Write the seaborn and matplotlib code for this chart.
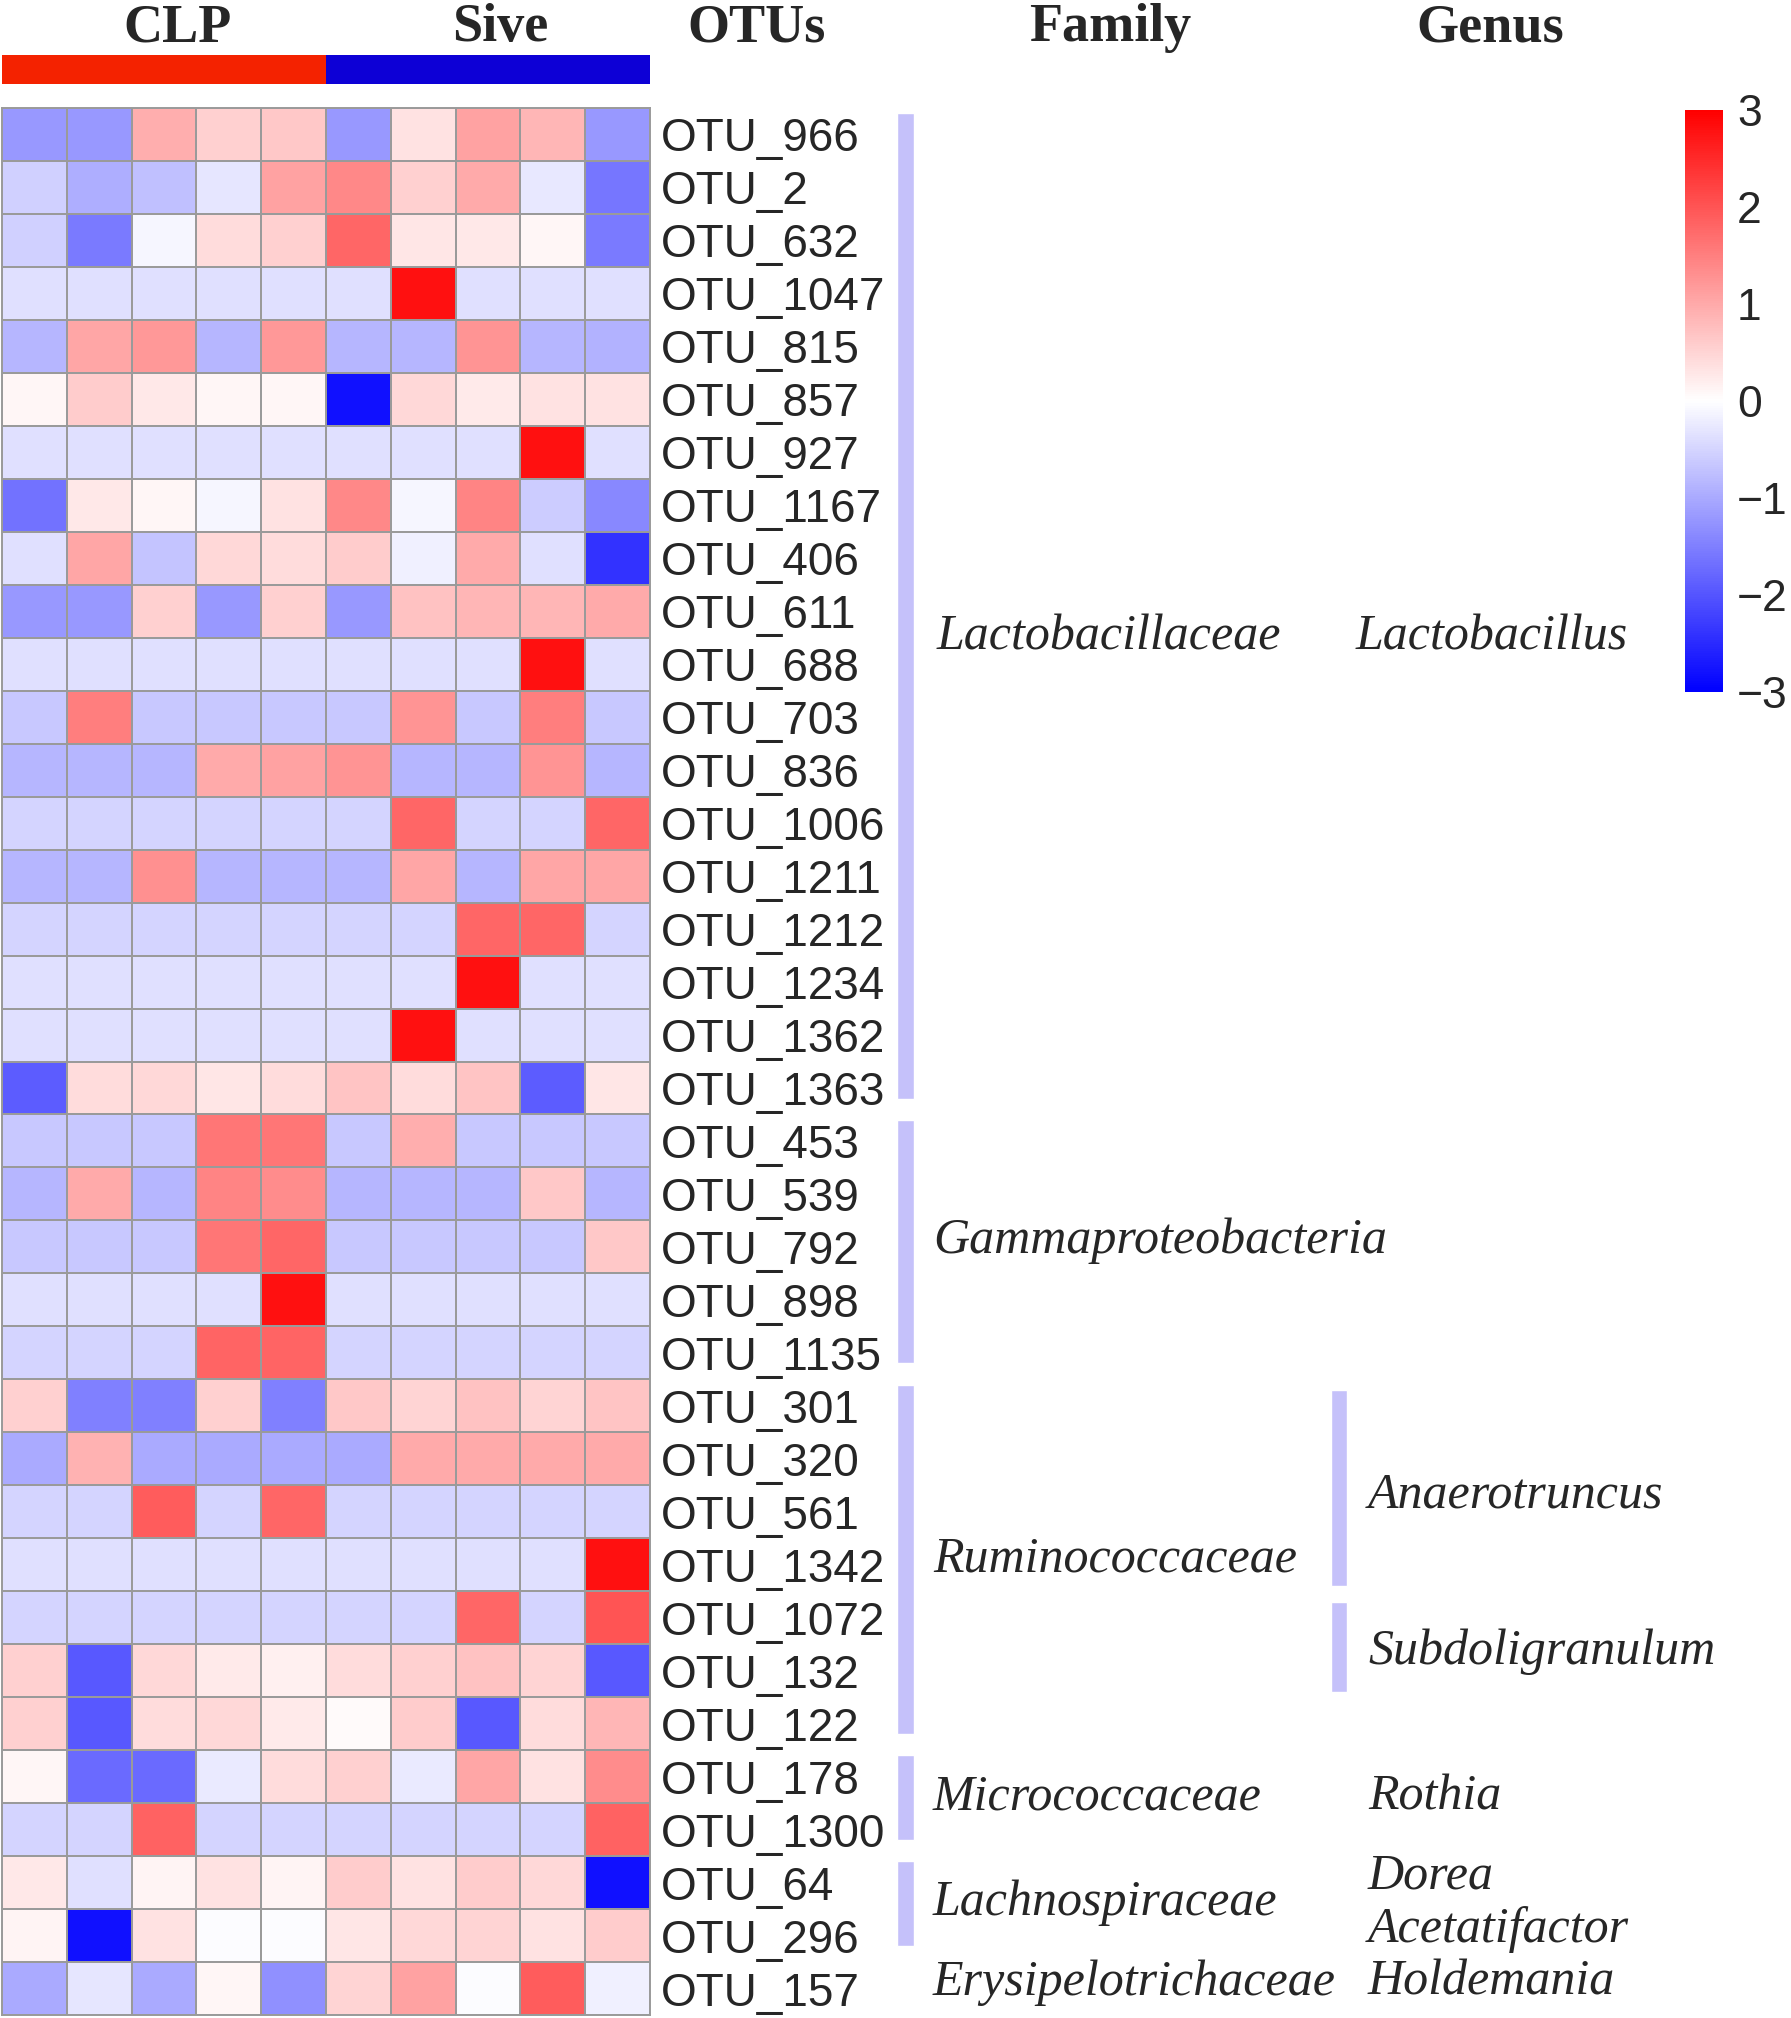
import numpy as np
import pandas as pd
import seaborn as sns
import matplotlib.pyplot as plt
from matplotlib.colors import ListedColormap

# ---- data (z-scores, columns = samples) ----
samples = ['CLP_1', 'CLP_2', 'CLP_3', 'CLP_4', 'CLP_5',
           'Sive_1', 'Sive_2', 'Sive_3', 'Sive_4', 'Sive_5']
groups = ['CLP', 'CLP', 'CLP', 'CLP', 'CLP',
          'Sive', 'Sive', 'Sive', 'Sive', 'Sive']

lacto_otus = ['OTU_966', 'OTU_2', 'OTU_632', 'OTU_1047', 'OTU_815', 'OTU_857',
              'OTU_927', 'OTU_1167', 'OTU_406', 'OTU_611', 'OTU_688', 'OTU_703',
              'OTU_836', 'OTU_1006', 'OTU_1211', 'OTU_1212', 'OTU_1234',
              'OTU_1362', 'OTU_1363']
lacto_z = [
    [-1.2, -1.2, 0.95, 0.55, 0.65, -1.2, 0.35, 1.1, 0.85, -1.2],
    [-0.55, -0.95, -0.75, -0.3, 1.1, 1.4, 0.55, 1.0, -0.27, -1.6],
    [-0.55, -1.55, -0.1, 0.4, 0.55, 1.8, 0.3, 0.27, 0.1, -1.55],
    [-0.37, -0.37, -0.37, -0.37, -0.37, -0.37, 2.8, -0.37, -0.37, -0.37],
    [-0.85, 1.05, 1.2, -0.85, 1.2, -0.85, -0.85, 1.25, -0.85, -0.9],
    [0.1, 0.6, 0.27, 0.1, 0.1, -2.8, 0.45, 0.25, 0.35, 0.33],
    [-0.37, -0.37, -0.37, -0.37, -0.37, -0.37, -0.37, -0.37, 2.8, -0.37],
    [-1.65, 0.27, 0.1, -0.1, 0.35, 1.4, -0.1, 1.45, -0.6, -1.4],
    [-0.37, 1.05, -0.7, 0.45, 0.42, 0.6, -0.18, 1.0, -0.37, -2.4],
    [-1.2, -1.2, 0.55, -1.2, 0.55, -1.2, 0.72, 0.85, 0.85, 1.0],
    [-0.37, -0.37, -0.37, -0.37, -0.37, -0.37, -0.37, -0.37, 2.8, -0.37],
    [-0.65, 1.5, -0.65, -0.65, -0.65, -0.65, 1.25, -0.65, 1.5, -0.65],
    [-0.85, -0.85, -0.85, 1.0, 1.1, 1.25, -0.85, -0.85, 1.25, -0.85],
    [-0.5, -0.5, -0.5, -0.5, -0.5, -0.5, 1.8, -0.5, -0.5, 1.8],
    [-0.85, -0.85, 1.3, -0.85, -0.85, -0.85, 1.05, -0.85, 1.05, 1.05],
    [-0.5, -0.5, -0.5, -0.5, -0.5, -0.5, -0.5, 1.8, 1.8, -0.5],
    [-0.37, -0.37, -0.37, -0.37, -0.37, -0.37, -0.37, 2.8, -0.37, -0.37],
    [-0.37, -0.37, -0.37, -0.37, -0.37, -0.37, 2.8, -0.37, -0.37, -0.37],
    [-1.9, 0.4, 0.45, 0.3, 0.4, 0.68, 0.4, 0.68, -1.9, 0.3],
]

gamma_otus = ['OTU_453', 'OTU_539', 'OTU_792', 'OTU_898', 'OTU_1135']
gamma_z = [
    [-0.65, -0.65, -0.65, 1.6, 1.6, -0.65, 0.95, -0.65, -0.65, -0.65],
    [-0.85, 1.0, -0.85, 1.45, 1.35, -0.85, -0.85, -0.85, 0.65, -0.85],
    [-0.65, -0.65, -0.65, 1.6, 1.8, -0.65, -0.65, -0.65, -0.65, 0.65],
    [-0.37, -0.37, -0.37, -0.37, 2.8, -0.37, -0.37, -0.37, -0.37, -0.37],
    [-0.5, -0.5, -0.5, 1.82, 1.82, -0.5, -0.5, -0.5, -0.5, -0.5],
]

rumino_otus = ['OTU_301', 'OTU_320', 'OTU_561', 'OTU_1342', 'OTU_1072',
               'OTU_132', 'OTU_122']
rumino_z = [
    [0.55, -1.5, -1.5, 0.55, -1.5, 0.65, 0.5, 0.72, 0.5, 0.68],
    [-1.0, 0.9, -1.0, -1.0, -1.0, -1.0, 1.0, 1.0, 1.0, 1.0],
    [-0.5, -0.5, 1.9, -0.5, 1.8, -0.5, -0.5, -0.5, -0.5, -0.5],
    [-0.37, -0.37, -0.37, -0.37, -0.37, -0.37, -0.37, -0.37, -0.37, 2.8],
    [-0.5, -0.5, -0.5, -0.5, -0.5, -0.5, -0.5, 1.8, -0.5, 2.0],
    [0.55, -1.95, 0.45, 0.25, 0.18, 0.4, 0.55, 0.72, 0.5, -1.95],
    [0.55, -1.95, 0.4, 0.45, 0.25, 0.07, 0.6, -1.95, 0.4, 0.85],
]

micro_otus = ['OTU_178', 'OTU_1300']
micro_z = [
    [0.1, -1.75, -1.75, -0.25, 0.4, 0.55, -0.25, 1.05, 0.35, 1.35],
    [-0.5, -0.5, 1.85, -0.5, -0.5, -0.5, -0.5, -0.5, -0.5, 1.85],
]

lachno_otus = ['OTU_64', 'OTU_296']
lachno_z = [
    [0.27, -0.37, 0.12, 0.35, 0.12, 0.6, 0.35, 0.6, 0.45, -2.8],
    [0.12, -2.8, 0.35, -0.03, -0.03, 0.3, 0.45, 0.5, 0.33, 0.6],
]

erysip_otus = ['OTU_157']
erysip_z = [
    [-1.0, -0.3, -1.0, 0.1, -1.3, 0.5, 1.1, -0.03, 1.9, -0.18],
]

family = (['Lactobacillaceae'] * len(lacto_otus)
          + ['Gammaproteobacteria'] * len(gamma_otus)
          + ['Ruminococcaceae'] * len(rumino_otus)
          + ['Micrococcaceae'] * len(micro_otus)
          + ['Lachnospiraceae'] * len(lachno_otus)
          + ['Erysipelotrichaceae'] * len(erysip_otus))

genus = (['Lactobacillus'] * len(lacto_otus)
         + [''] * len(gamma_otus)
         + ['Anaerotruncus', 'Anaerotruncus', 'Anaerotruncus', 'Anaerotruncus',
            'Subdoligranulum', 'Subdoligranulum', '']
         + ['Rothia', 'Rothia']
         + ['Dorea', 'Acetatifactor']
         + ['Holdemania'])

otus = lacto_otus + gamma_otus + rumino_otus + micro_otus + lachno_otus + erysip_otus
z = np.array(lacto_z + gamma_z + rumino_z + micro_z + lachno_z + erysip_z)
df = pd.DataFrame(z, index=otus, columns=samples)

ann = pd.DataFrame({'family': family, 'genus': genus})
ann['row'] = np.arange(len(otus))

# ---- style ----
sns.set_style('white')
plt.rcParams['font.family'] = ['Liberation Sans', 'DejaVu Sans']

W, H = 1791, 2018
fig = plt.figure(figsize=(W / 100, H / 100), dpi=100, facecolor='white')


def box(x0, y0, x1, y1):
    # axes from pixel box (top-left origin)
    return fig.add_axes([x0 / W, 1 - y1 / H, (x1 - x0) / W, (y1 - y0) / H])


ax = box(2, 108, 650, 2015)
cax = box(1685, 110, 1723, 692)
top = box(2, 55, 650, 84)
side = box(650, 108, 1791, 2015)

# main heatmap
sns.heatmap(df, ax=ax, cmap='bwr', vmin=-3, vmax=3, linewidths=1.4,
            linecolor='#9a9a9a', cbar_ax=cax,
            cbar_kws={'ticks': [-3, -2, -1, 0, 1, 2, 3]},
            xticklabels=False, yticklabels=True)
ax.set_xlabel('')
ax.set_ylabel('')
ax.yaxis.tick_right()
ax.set_yticks(np.arange(len(otus)) + 0.5)
ax.set_yticklabels(otus, rotation=0, fontsize=33, va='center_baseline')
ax.tick_params(axis='y', length=0, pad=8)
for s in ax.spines.values():
    s.set_visible(True)
    s.set_color('#9a9a9a')
    s.set_linewidth(1.4)

cbar = ax.collections[0].colorbar
cbar.outline.set_visible(False)
cbar.ax.tick_params(length=0, labelsize=32, pad=10)

# sample group bar
codes = pd.Categorical(groups, categories=['CLP', 'Sive']).codes
sns.heatmap(pd.DataFrame([codes], columns=samples), ax=top,
            cmap=ListedColormap(['#F42200', '#0D00D6']), vmin=0, vmax=1,
            cbar=False, xticklabels=False, yticklabels=False)

# column headers
head_font = dict(family='Liberation Serif', fontweight='bold', fontsize=39,
                 ha='center', va='baseline')
for label, xc in [('CLP', 177), ('Sive', 500), ('OTUs', 757),
                  ('Family', 1110), ('Genus', 1490)]:
    fig.text(xc / W, 1 - 41 / H, label, **head_font)

# family / genus annotation
side.set_xlim(650, 1791)
side.set_ylim(len(otus), 0)
side.axis('off')
bar_color = '#C5C1FA'
tax_font = dict(family='Liberation Serif', fontstyle='italic', fontsize=36,
                ha='left', va='baseline')
dy = {'Lactobacillaceae': 0.6, 'Lactobacillus': 0.6,
      'Anaerotruncus': 0.3, 'Subdoligranulum': 0.25}
dx = {'Lactobacillus': -12, 'Lactobacillaceae': 4}

fam = ann.groupby('family', sort=False)['row'].agg(['min', 'max', 'count'])
for name, g in fam.iterrows():
    start, end = g['min'], g['max'] + 1
    if g['count'] > 1:
        side.bar(905, (end - 0.3) - (start + 0.1), bottom=start + 0.1,
                 width=17, color=bar_color)
    side.text(933 + dx.get(name, 0), (start + end) / 2 + 0.12 + dy.get(name, 0),
              name, **tax_font)

n_gen = ann.groupby('family', sort=False)['genus'].nunique()
gen = ann[ann['genus'] != ''].groupby('genus', sort=False).agg(
    start=('row', 'min'), stop=('row', 'max'), count=('row', 'count'),
    family=('family', 'first'))
for name, g in gen.iterrows():
    start, end = g['start'], g['stop'] + 1
    if g['count'] > 1 and n_gen[g['family']] > 1:
        side.bar(1339, (end - 0.1) - (start + 0.2), bottom=start + 0.2,
                 width=16, color=bar_color)
    side.text(1368 + dx.get(name, 0), (start + end) / 2 + 0.12 + dy.get(name, 0),
              name, **tax_font)

fig.savefig('out.png', dpi=100, facecolor='white')
